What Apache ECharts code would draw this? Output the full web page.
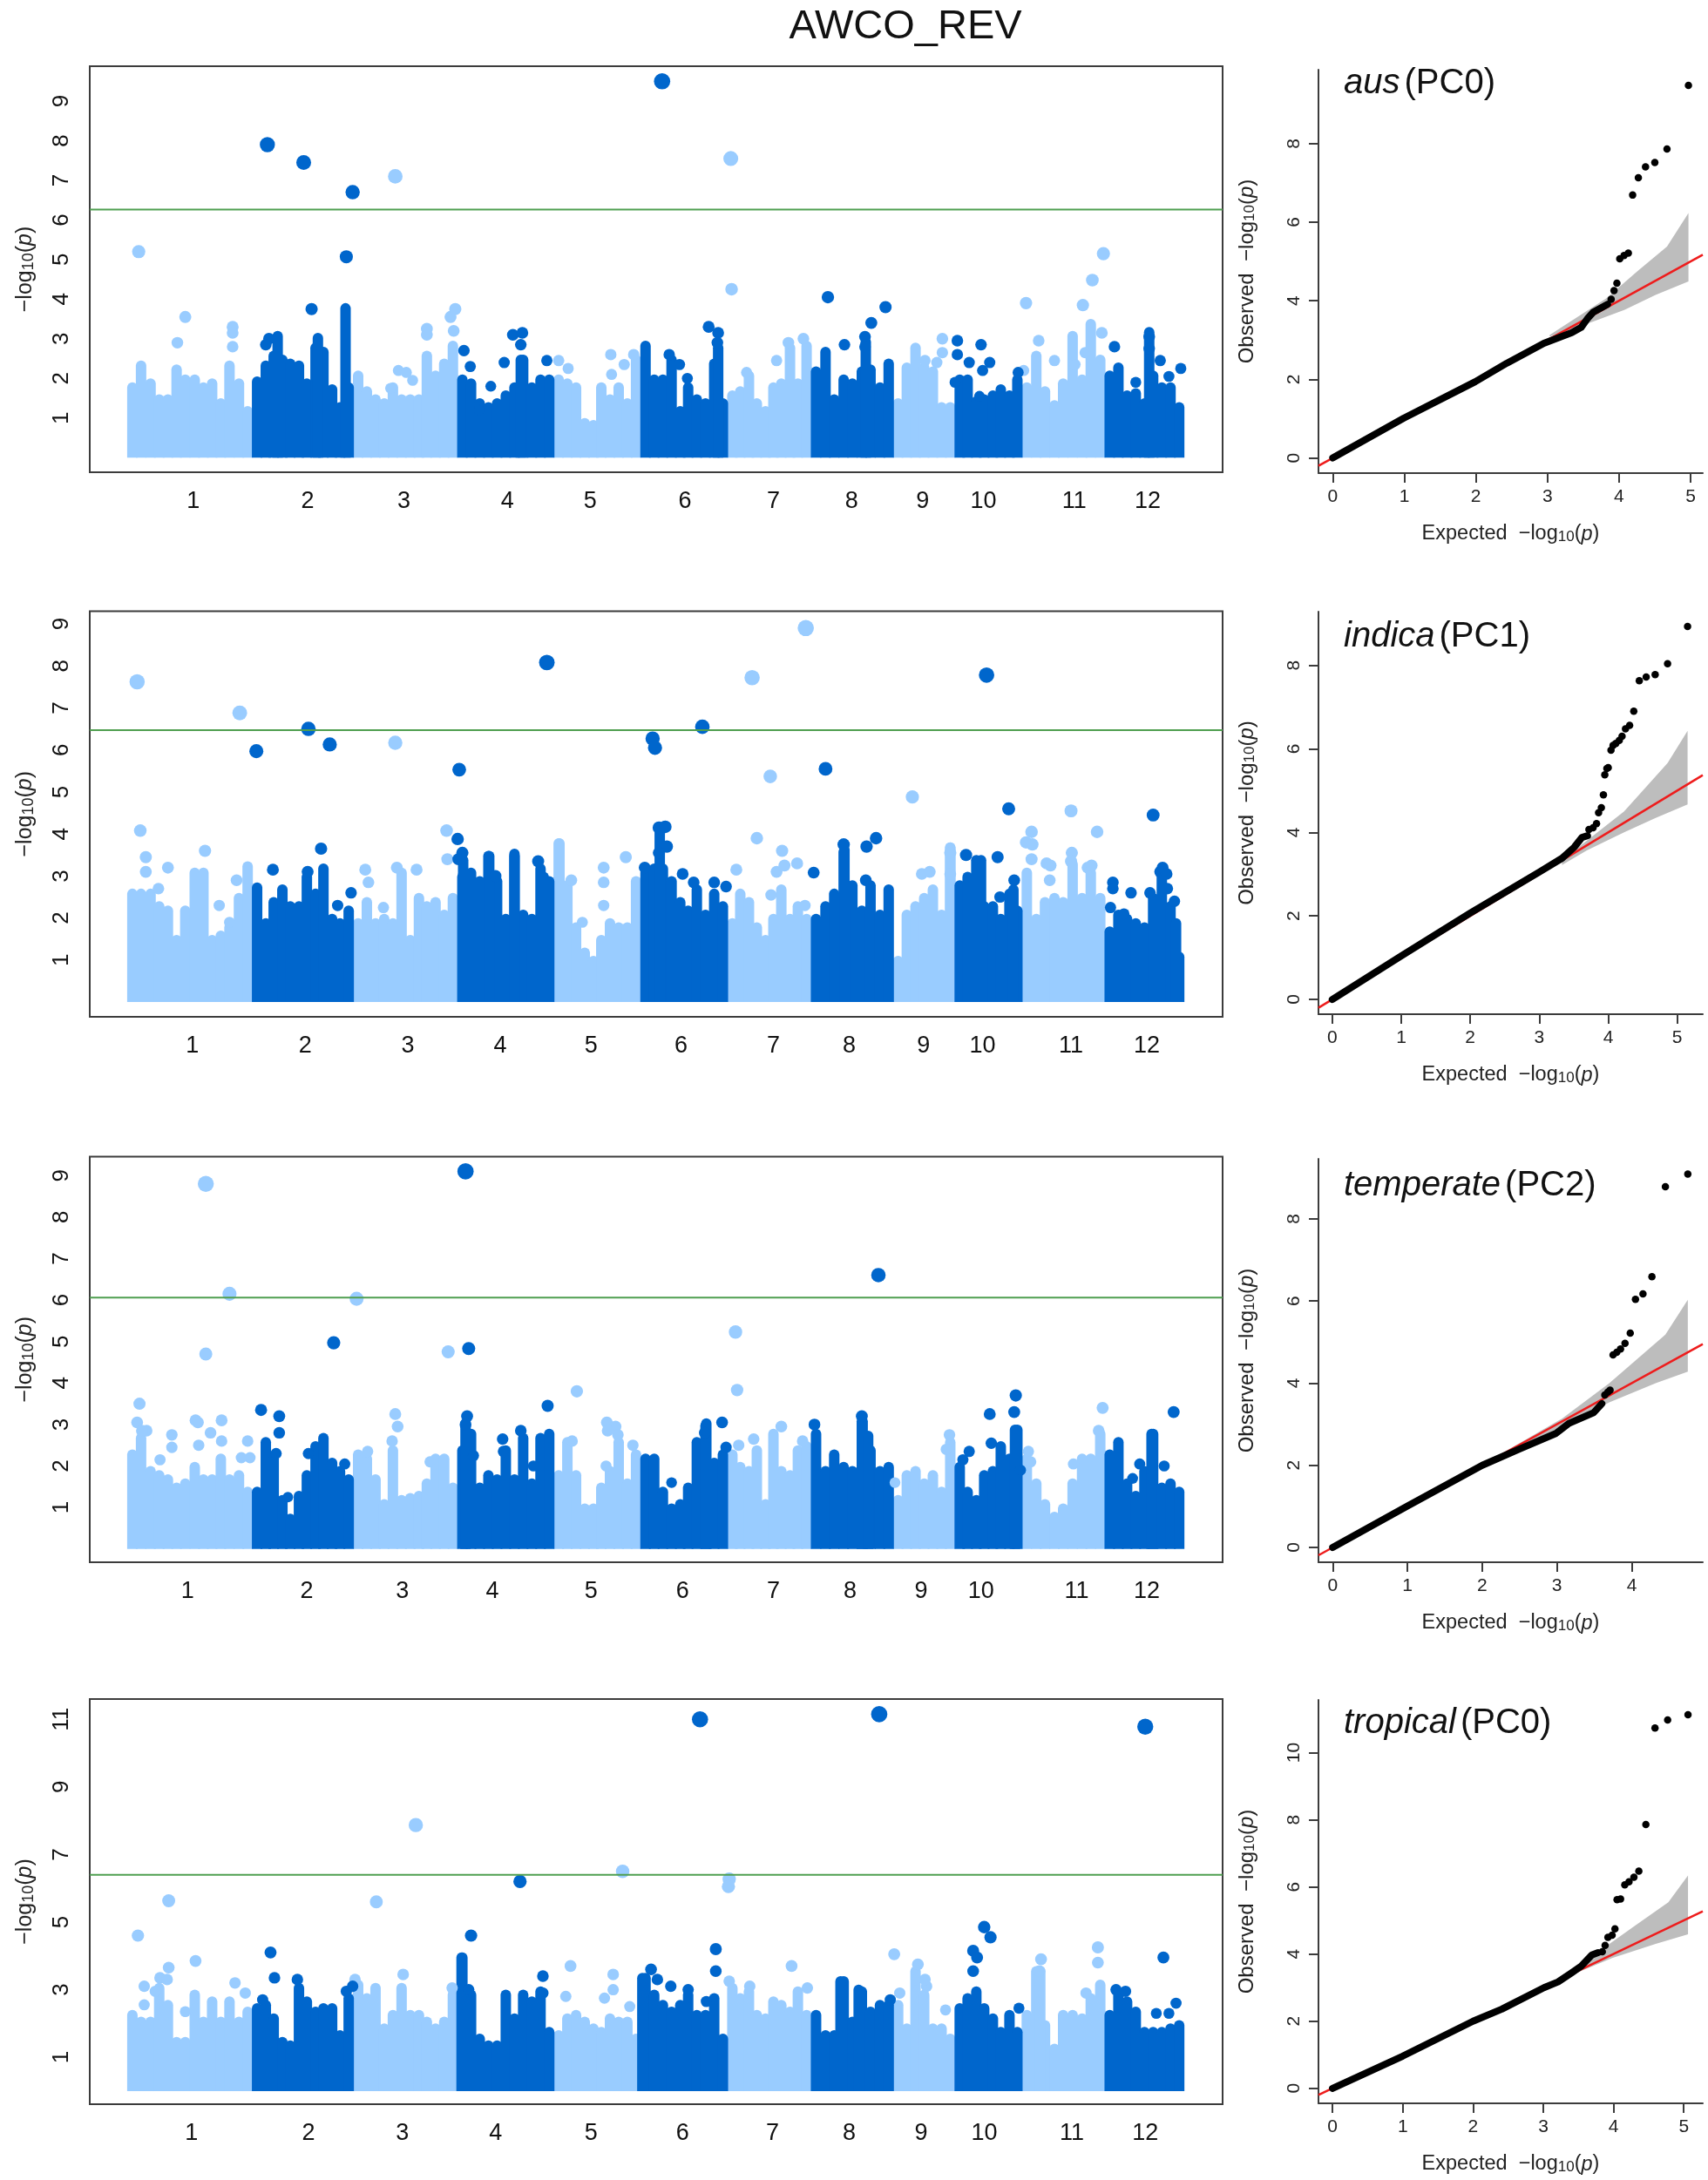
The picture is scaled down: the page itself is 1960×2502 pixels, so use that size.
<!DOCTYPE html>
<html><head><meta charset="utf-8">
<style>html,body{margin:0;padding:0;background:#fff}#c{width:1960px;height:2502px}</style>
<script src="https://cdn.jsdelivr.net/npm/echarts@6/dist/echarts.min.js"></script>
</head><body><div id="c"></div>
<script>
const chartTitle = 'AWCO_REV';
const chromosomes = ['1','2','3','4','5','6','7','8','9','10','11','12'];
const chrStarts = [162,320,448,580,702,812,922,1028,1132,1210,1295,1400];

// Column positions (genome position in plot units), one list per chromosome, flattened
const columnPos = [
 168,179,191,202,213,224,235,247,258,269,280,291,303,314,
 326,337,347,358,368,379,389,400,410,421,431,442,
 454,465,476,487,498,509,520,531,541,552,563,574,
 586,597,608,619,630,641,652,663,674,685,696,
 708,719,730,741,752,762,773,784,795,806,
 818,829,840,851,862,872,883,894,905,916,
 928,938,949,959,970,980,990,1001,1011,1022,
 1034,1046,1057,1069,1080,1092,1103,1115,1126,
 1138,1149,1160,1171,1182,1193,1204,
 1216,1226,1237,1247,1258,1268,1279,1289,
 1301,1313,1324,1336,1347,1359,1371,1382,1394,
 1406,1417,1428,1439,1450,1461,1472,1483,1494];

// Upper edge of the dense SNP mass, -log10(p)
const ausTops = [
 1.9,2.45,2.0,1.6,1.6,2.35,2.1,2.1,1.9,2.0,1.5,2.45,2.0,1.3,
 2.05,2.45,2.7,2.6,2.5,2.45,2.0,2.9,2.8,1.85,1.4,1.9,
 2.2,1.8,1.6,1.5,1.9,1.6,1.6,1.6,2.7,2.2,2.5,2.95,
 2.1,2.0,1.5,1.4,1.5,1.7,1.9,2.6,1.9,2.1,2.1,
 2.1,2.0,1.9,1.0,0.95,1.9,1.6,1.9,1.5,2.6,
 2.95,2.1,2.1,2.6,1.3,1.9,1.6,1.5,2.5,1.5,
 1.7,1.8,2.2,1.5,1.3,1.9,2.0,2.9,2.0,2.95,
 2.3,2.8,1.6,2.1,2.0,2.3,2.35,1.9,2.5,
 1.5,2.4,2.9,2.4,2.3,1.4,1.4,
 2.1,2.1,1.55,1.6,1.7,1.85,1.7,2.1,
 1.9,2.7,1.8,1.45,2.0,3.2,2.1,3.5,2.6,
 2.2,2.4,1.7,1.75,1.5,2.2,1.9,1.9,1.4];
const indicaTops = [
 2.7,2.7,2.7,2.4,2.3,1.6,2.3,3.2,3.2,1.6,1.7,1.9,2.6,3.35,
 2.85,2.0,2.5,2.8,2.4,2.4,3.1,2.7,3.3,2.1,2.0,2.3,
 2.0,2.5,2.0,2.1,2.0,3.2,1.6,2.6,2.4,2.5,2.2,2.6,
 3.1,3.2,3.0,3.6,3.0,2.1,3.6,2.2,2.1,3.3,3.0,
 3.9,2.9,1.9,1.3,1.1,1.6,2.0,1.9,1.9,3.0,
 3.2,3.3,3.3,3.0,2.5,2.3,2.8,2.2,2.7,2.4,
 2.0,2.7,2.5,1.9,1.6,2.1,2.8,2.1,2.4,2.1,
 2.1,2.4,2.7,3.7,2.9,2.3,2.9,2.2,2.8,
 1.1,2.2,2.4,2.6,2.8,2.2,3.8,
 2.9,3.1,3.5,2.4,2.4,2.1,2.7,2.3,
 3.2,2.1,2.5,2.6,2.5,3.4,2.6,3.2,2.6,
 1.8,2.2,2.1,2.0,1.9,2.6,3.2,2.4,1.2];
const temperateTops = [
 2.4,2.8,2.0,1.9,1.8,1.6,1.7,2.1,1.8,1.8,2.3,1.8,1.9,1.5,
 1.5,2.7,2.3,1.3,0.85,1.4,1.9,2.6,2.8,2.2,2.0,1.8,
 2.4,2.3,1.8,1.2,2.5,1.3,1.35,1.4,1.7,2.3,2.3,1.6,
 2.5,2.9,1.6,1.9,1.8,2.5,1.8,2.8,1.7,2.8,2.9,
 1.9,2.7,1.9,1.1,1.1,1.6,2.0,2.7,1.7,2.4,
 2.3,2.3,1.5,1.1,1.2,1.6,2.7,3.1,2.2,2.4,
 2.4,2.1,2.0,2.5,1.2,2.9,2.0,1.9,2.5,2.6,
 2.9,2.0,2.4,2.1,2.0,3.2,2.5,2.0,2.1,
 1.3,1.9,2.0,1.7,1.9,1.5,2.7,
 2.1,1.5,1.3,1.9,2.0,2.6,2.3,3.0,
 2.3,1.7,1.2,0.9,1.1,1.7,2.3,2.3,2.9,
 2.4,2.7,1.7,1.4,2.0,2.9,1.6,1.7,1.5];
const tropicalTops = [
 2.4,2.2,2.2,3.2,2.7,1.6,1.6,3.0,2.2,2.8,2.2,2.8,2.2,2.5,
 2.6,2.7,2.3,1.6,1.5,3.2,2.8,2.5,2.6,2.6,1.8,2.9,
 3.3,2.9,3.2,2.0,2.4,3.2,2.4,2.4,2.2,2.0,2.2,3.0,
 4.1,3.0,1.7,1.5,1.5,3.0,2.3,3.0,2.8,3.1,1.9,
 1.8,2.3,2.4,2.2,2.0,1.9,2.3,2.2,2.2,1.7,
 3.5,3.0,2.7,2.5,2.7,3.0,2.4,2.4,2.9,1.7,
 3.2,2.9,3.1,2.4,2.3,2.8,2.7,2.5,3.1,2.4,
 2.4,1.8,1.8,3.4,2.2,3.1,2.5,2.7,2.7,
 2.7,2.0,3.7,3.0,2.0,2.0,1.7,
 2.6,2.9,3.1,2.6,2.3,1.9,2.4,1.9,
 2.4,3.7,2.1,1.4,2.4,2.4,2.3,2.9,3.3,
 2.4,3.0,2.8,2.5,1.9,1.9,1.9,2.0,2.1];

// Narrow vertical runs of SNPs [position, top]
const ausStreaks = [[352,3.2],[403,3.15],[438,3.9],[660,2.6],[910,2.9],[1097,3.05],[1456,3.3]];
const indicaStreaks = [[587,3.5],[620,3.6],[652,3.65],[689,3.1],[709,3.9],[836,4.2],[1070,3.75],[1204,3.8],[1243,3.5],[1284,2.8],[1490,2.0]];
const temperateStreaks = [[590,3.15],[895,3.15],[1093,3.2],[1100,2.85],[1286,3.0],[1459,2.9]];
const tropicalStreaks = [[585,4.1],[814,3.5],[1065,3.4],[1088,3.15],[1318,3.7]];

// Separate SNPs above the mass [position, -log10(p)]
const ausDots = [[176,5.2],[235,3.55],[225,2.9],[295,3.3],[295,3.15],[295,2.8],
 [395,3.75],[439,5.07],[339,7.9],[385,7.45],[447,6.7],[341,3.0],[337,2.85],
 [501,7.1],[505,2.2],[515,2.15],[541,3.1],[541,3.25],[571,3.55],[577,3.75],[575,3.2],[495,1.75],[523,1.95],
 [588,2.7],[596,2.3],[622,1.8],[639,2.4],[650,3.1],[662,3.15],[660,2.85],[693,2.45],[607,1.2],
 [708,2.45],[720,2.25],[774,2.6],[775,2.1],[791,2.35],[803,2.6],
 [839,9.5],[898,3.3],[910,3.15],[909,2.9],[861,2.35],[871,2.0],[848,2.6],
 [926,7.55],[927,4.25],[984,2.45],[999,2.9],[1018,3.0],[946,2.15],
 [1049,4.05],[1122,3.8],[1104,3.4],[1070,2.85],[1096,3.05],[1096,2.8],
 [1194,3.0],[1194,2.65],[1172,2.45],[1187,2.4],
 [1213,2.95],[1213,2.6],[1243,2.85],[1228,2.4],[1254,2.4],[1245,2.2],[1290,2.15],[1241,1.55],[1210,1.9],
 [1300,3.9],[1316,2.95],[1336,2.45],[1372,3.85],[1384,4.48],[1398,5.15],[1396,3.15],[1297,2.2],[1362,2.35],[1375,2.65],
 [1412,2.8],[1456,3.05],[1456,2.75],[1470,2.45],[1496,2.25],[1439,1.9],[1481,2.05]];
const indicaDots = [[174,7.62],[304,6.88],[178,4.08],[185,3.45],[185,3.1],[213,3.2],[260,3.6],[201,2.7],[278,2.3],[300,2.9],[291,1.9],
 [391,6.5],[418,6.13],[325,5.97],[346,3.15],[407,3.65],[390,3.1],[445,2.6],[428,2.3],
 [501,6.17],[463,3.15],[467,2.85],[528,3.15],[486,2.25],[566,4.08],[567,3.4],[503,3.2],
 [582,5.53],[580,3.88],[586,3.55],[581,3.4],[693,8.08],[682,3.35],[628,3.0],
 [724,2.9],[738,1.9],[793,3.45],[765,3.2],[765,2.85],[765,2.3],
 [890,6.55],[827,6.27],[830,6.05],[835,4.15],[843,4.17],[845,3.7],[835,3.55],[865,3.05],[879,2.85],[905,2.85],[920,2.75],[817,3.2],
 [1021,8.9],[953,7.72],[976,5.37],[959,3.9],[991,3.6],[933,3.15],[984,3.1],[994,3.25],[1010,3.3],[977,2.55],[1020,2.3],
 [1046,5.55],[1031,3.08],[1110,3.9],[1098,3.7],[1069,3.75],[1097,2.9],
 [1156,4.88],[1168,3.05],[1178,3.1],[1204,3.05],[1204,3.55],
 [1250,7.78],[1278,4.6],[1224,3.5],[1264,3.45],[1285,2.9],[1267,2.5],
 [1357,4.55],[1390,4.05],[1307,4.05],[1300,3.8],[1308,3.75],[1307,3.4],[1326,3.3],[1331,3.25],[1378,3.2],[1383,3.25],[1358,3.55],[1357,3.35],[1330,2.9],
 [1461,4.45],[1470,3.1],[1473,3.2],[1478,3.05],[1410,2.85],[1410,2.7],[1433,2.6],[1457,2.6],[1479,2.7],[1488,2.4],[1407,2.25],[1424,2.1]];
const temperateDots = [[261,8.8],[291,6.15],[261,4.7],[177,3.5],[174,3.05],[186,2.85],[180,2.85],[218,2.75],[218,2.45],[252,2.5],[248,3.1],[251,3.05],[281,3.1],[267,2.8],[281,2.6],[314,2.6],[203,2.15],[317,2.2],[306,2.2],
 [331,3.35],[354,3.2],[354,2.8],[423,4.97],[391,2.3],[437,2.05],[365,1.25],[350,2.3],
 [452,6.03],[501,3.25],[504,2.95],[568,4.75],[545,2.1],[497,2.6],[466,2.35],
 [590,9.1],[594,4.83],[694,3.45],[592,3.2],[590,3.0],[660,2.85],[637,2.65],[638,2.35],[600,2.25],[676,2.0],
 [731,3.8],[769,3.05],[780,2.95],[770,2.85],[783,2.75],[768,2.0],[725,2.6],[802,2.5],
 [915,3.05],[851,1.6],[893,2.8],[920,2.45],
 [932,5.23],[934,3.83],[990,2.95],[955,2.65],[936,2.5],[1017,2.6],
 [1113,6.6],[1032,3.0],[1092,3.2],
 [1203,2.75],[1199,2.4],[1134,1.6],
 [1287,3.7],[1285,3.3],[1254,3.25],[1256,2.55],[1228,2.35],[1220,2.15],[1293,1.9],
 [1397,3.4],[1392,2.85],[1303,2.35],[1306,2.1],[1360,2.05],
 [1487,3.3],[1444,2.05],[1475,2.0],[1435,1.7]];
const tropicalDots = [[175,4.6],[214,5.63],[248,3.85],[214,3.65],[203,3.35],[212,3.3],[183,3.1],[197,2.95],[183,2.55],[235,2.35],[298,3.2],[311,2.9],
 [343,4.1],[348,3.35],[377,3.3],[447,3.1],[439,2.95],[333,2.7],
 [477,5.6],[527,7.87],[511,3.45],[573,3.05],[450,3.3],
 [659,6.2],[597,4.6],[688,3.4],[688,2.9],[594,3.0],
 [789,6.5],[723,3.7],[777,3.45],[777,3.0],[717,2.8],[766,2.75],[798,2.5],
 [887,11.0],[907,4.2],[907,3.55],[825,3.6],[833,3.3],[850,3.1],[872,3.0],[895,2.65],
 [924,6.27],[923,6.05],[1003,3.7],[950,3.1],[1023,3.05],[924,3.25],
 [1114,11.15],[1133,4.05],[1128,2.7],
 [1140,2.9],[1163,3.75],[1174,3.1],[1172,3.3],[1198,2.4],
 [1247,4.85],[1255,4.55],[1233,4.15],[1238,3.95],[1233,3.55],[1291,2.45],
 [1391,4.25],[1391,3.8],[1319,3.9],[1317,3.55],[1376,2.9],
 [1451,10.78],[1474,3.95],[1490,2.6],[1465,2.3],[1481,2.3],[1414,3.0],[1426,2.95]];

// Significance thresholds
const ausThreshold = 6.26, indicaThreshold = 6.47, temperateThreshold = 6.06, tropicalThreshold = 6.40;

// Chromosome label positions
const ausLabelPos = [245,390,512,643,748,868,980,1079,1169,1246,1361,1454];
const indicaLabelPos = [244,387,517,634,749,863,980,1076,1170,1245,1357,1453];
const temperateLabelPos = [238,389,510,624,749,865,980,1077,1167,1243,1364,1453];
const tropicalLabelPos = [243,391,510,628,749,865,979,1076,1167,1247,1358,1451];

// QQ plots: [expected, observed]
const ausQQBody = [[0,0],[0.99,1.01],[1.99,1.94],[2.43,2.41],[2.95,2.92],[3.34,3.19],[3.47,3.32],[3.56,3.55],[3.64,3.71],[3.84,3.91]];
const ausQQTail = [[4.97,9.48],[4.67,7.86],[4.5,7.52],[4.37,7.41],[4.27,7.13],[4.19,6.69],[4.13,5.21],[4.07,5.15],[4.01,5.07],[3.97,4.45],[3.93,4.26],[3.89,4.04]];
const ausQQBand = [[3.03,3.13],[3.82,4.06],[4.25,4.74],[4.67,5.38],[4.97,6.23],[4.97,4.49],[4.51,4.15],[4.08,3.77],[3.64,3.47],[3.03,3.09]];
const indicaQQBody = [[0,0],[1,1.04],[2,2.07],[3,3.05],[3.33,3.38],[3.51,3.65],[3.62,3.88],[3.7,3.92]];
const indicaQQTail = [[5.15,8.93],[4.86,8.04],[4.68,7.78],[4.55,7.72],[4.45,7.63],[4.37,6.9],[4.31,6.56],[4.25,6.48],[4.2,6.3],[4.16,6.2],[4.11,6.13],[4.07,6.08],[4.04,5.97],[4.0,5.55],[3.98,5.53],[3.95,5.38],[3.93,4.9],[3.9,4.59],[3.86,4.47],[3.83,4.21],[3.78,4.11],[3.72,4.07]];
const indicaQQBand = [[3.33,3.34],[3.78,3.92],[4.23,4.5],[4.86,5.66],[5.15,6.43],[5.15,4.67],[4.68,4.34],[4.23,4.0],[3.69,3.57],[3.33,3.22]];
const temperateQQBody = [[0,0],[1,1.01],[2,2.0],[2.49,2.39],[2.99,2.78],[3.16,3.02],[3.49,3.28],[3.6,3.5]];
const temperateQQTail = [[4.75,9.09],[4.45,8.78],[4.27,6.59],[4.15,6.17],[4.05,6.04],[3.98,5.22],[3.91,4.97],[3.85,4.83],[3.8,4.75],[3.75,4.69],[3.71,3.83],[3.68,3.78],[3.64,3.71]];
const temperateQQBand = [[2.32,2.35],[3.07,3.14],[3.7,4.0],[4.45,5.18],[4.75,6.03],[4.75,4.28],[4.32,4.0],[3.7,3.53],[3.07,2.94],[2.32,2.31]];
const tropicalQQBody = [[0,0],[1,0.96],[2,2.0],[2.41,2.36],[3.01,3.0],[3.21,3.17],[3.41,3.45],[3.54,3.64],[3.69,3.97],[3.78,4.04]];
const tropicalQQTail = [[5.06,11.13],[4.77,10.97],[4.59,10.73],[4.46,7.86],[4.36,6.47],[4.29,6.29],[4.22,6.15],[4.16,6.06],[4.1,5.64],[4.05,5.62],[4.02,4.75],[3.98,4.56],[3.92,4.5],[3.88,4.26],[3.84,4.07]];
const tropicalQQBand = [[3.18,3.17],[3.72,3.97],[4.29,4.82],[4.78,5.54],[5.06,6.34],[5.06,4.59],[4.6,4.3],[3.98,3.88],[3.49,3.45],[3.18,3.12]];

const FONT = 'Liberation Sans';
const LIGHT = '#99CCFF', DARK = '#0066CC', GREEN = '#4f9f50', AXIS = '#3c3c3c';

const panels = [
 {name:'aus', pc:'(PC0)', tops:ausTops, streaks:ausStreaks, dots:ausDots, thr:ausThreshold, labels:ausLabelPos,
  top:76, bottom:542, yMin:-0.37, yMax:9.88, yTicks:[1,2,3,4,5,6,7,8,9],
  q:{body:ausQQBody, tail:ausQQTail, band:ausQQBand, top:80, bottom:543, xMin:-0.2, xMax:5.17, yMin:-0.386, yMax:9.88, xTicks:[0,1,2,3,4,5], yTicks:[0,2,4,6,8], titleY:95}},
 {name:'indica', pc:'(PC1)', tops:indicaTops, streaks:indicaStreaks, dots:indicaDots, thr:indicaThreshold, labels:indicaLabelPos,
  top:701.5, bottom:1167, yMin:-0.35, yMax:9.3, yTicks:[1,2,3,4,5,6,7,8,9],
  q:{body:indicaQQBody, tail:indicaQQTail, band:indicaQQBand, top:702, bottom:1164, xMin:-0.2, xMax:5.37, yMin:-0.354, yMax:9.285, xTicks:[0,1,2,3,4,5], yTicks:[0,2,4,6,8], titleY:730}},
 {name:'temperate', pc:'(PC2)', tops:temperateTops, streaks:temperateStreaks, dots:temperateDots, thr:temperateThreshold, labels:temperateLabelPos,
  top:1327.5, bottom:1793, yMin:-0.32, yMax:9.455, yTicks:[1,2,3,4,5,6,7,8,9],
  q:{body:temperateQQBody, tail:temperateQQTail, band:temperateQQBand, top:1330, bottom:1793, xMin:-0.19, xMax:4.95, yMin:-0.36, yMax:9.46, xTicks:[0,1,2,3,4], yTicks:[0,2,4,6,8], titleY:1360}},
 {name:'tropical', pc:'(PC0)', tops:tropicalTops, streaks:tropicalStreaks, dots:tropicalDots, thr:tropicalThreshold, labels:tropicalLabelPos,
  top:1950, bottom:2415, yMin:-0.39, yMax:11.6, yTicks:[1,3,5,7,9,11],
  q:{body:tropicalQQBody, tail:tropicalQQTail, band:tropicalQQBand, top:1951, bottom:2414, xMin:-0.2, xMax:5.27, yMin:-0.447, yMax:11.57, xTicks:[0,1,2,3,4,5], yTicks:[0,2,4,6,8,10], titleY:1977}}
];

function colorOf(x){ let k=0; for(let i=0;i<chrStarts.length;i++){ if(x>=chrStarts[i]) k=i; } return k%2===0?LIGHT:DARK; }
const logRich = size => ({
  a:{fontFamily:FONT,fontSize:size,color:'#222'},
  s:{fontFamily:FONT,fontSize:Math.round(size*0.72),color:'#222',verticalAlign:'bottom',padding:[Math.round(size*0.3),0,0,0]},
  i:{fontFamily:FONT,fontSize:size,fontStyle:'italic',color:'#222'}
});
const logName = prefix => `{a|${prefix}−log}{s|10}{a|(}{i|p}{a|)}`;

const grid=[], xAxis=[], yAxis=[], series=[], title=[];
title.push({text:chartTitle,left:1034,top:3,textAlign:'center',textStyle:{fontFamily:FONT,fontSize:47,fontWeight:'normal',color:'#111'}});

panels.forEach(p=>{
  // Manhattan plot
  const gi = grid.length;
  grid.push({left:103,width:1300,top:p.top,height:p.bottom-p.top,show:true,borderColor:AXIS,borderWidth:2,backgroundColor:'transparent',outerBoundsMode:'none',containLabel:false});
  xAxis.push({type:'value',gridIndex:gi,min:114,max:1549,splitLine:{show:false},axisLine:{show:false},axisTick:{show:false},
    axisLabel:{customValues:p.labels,formatter:v=>chromosomes[p.labels.indexOf(v)],fontFamily:FONT,fontSize:27,color:'#111',margin:20,hideOverlap:false}});
  yAxis.push({type:'value',gridIndex:gi,min:p.yMin,max:p.yMax,splitLine:{show:false},axisLine:{show:false,onZero:false},axisTick:{show:false},
    axisLabel:{customValues:p.yTicks,rotate:90,fontFamily:FONT,fontSize:26,color:'#111',margin:19,hideOverlap:false},
    name:logName(''),nameLocation:'middle',nameGap:61,nameRotate:90,nameTextStyle:{rich:logRich(25)}});
  const cols = columnPos.map((x,i)=>[x,p.tops[i]]).concat(p.streaks);
  [LIGHT,DARK].forEach(c=>{
    series.push({type:'bar',xAxisIndex:gi,yAxisIndex:gi,name:p.name+' mass',barWidth:12,barGap:'-100%',silent:true,
      itemStyle:{color:c,borderRadius:[6,6,0,0]},data:cols.filter(d=>colorOf(d[0])===c)});
  });
  [LIGHT,DARK].forEach(c=>{
    series.push({type:'scatter',xAxisIndex:gi,yAxisIndex:gi,name:p.name+' SNPs',silent:true,itemStyle:{color:c,opacity:1},
      symbolSize:v=>11+8*v[1]/p.yMax,data:p.dots.filter(d=>colorOf(d[0])===c)});
  });
  series.push({type:'line',xAxisIndex:gi,yAxisIndex:gi,name:p.name+' threshold',silent:true,symbol:'none',z:5,
    lineStyle:{color:GREEN,width:2},data:[[114,p.thr],[1549,p.thr]]});

  // QQ plot
  const q = p.q, qi = grid.length;
  grid.push({left:1513,width:441,top:q.top,height:q.bottom-q.top,show:false,outerBoundsMode:'none',containLabel:false});
  const axLine = {show:true,onZero:false,lineStyle:{color:AXIS,width:2}};
  const tick = vals=>({show:true,length:11,customValues:vals,lineStyle:{color:AXIS,width:2}});
  xAxis.push({type:'value',gridIndex:qi,min:q.xMin,max:q.xMax,splitLine:{show:false},axisLine:axLine,axisTick:tick(q.xTicks),
    axisLabel:{customValues:q.xTicks,fontFamily:FONT,fontSize:21,color:'#222',margin:17,hideOverlap:false},
    name:logName('Expected  '),nameLocation:'middle',nameGap:58,nameTextStyle:{rich:logRich(23.5)}});
  yAxis.push({type:'value',gridIndex:qi,min:q.yMin,max:q.yMax,splitLine:{show:false},axisLine:axLine,axisTick:tick(q.yTicks),
    axisLabel:{customValues:q.yTicks,rotate:90,fontFamily:FONT,fontSize:21,color:'#222',margin:17,hideOverlap:false},
    name:logName('Observed  '),nameLocation:'middle',nameGap:70,nameRotate:90,nameTextStyle:{rich:logRich(24)}});
  series.push({type:'custom',xAxisIndex:qi,yAxisIndex:qi,name:p.name+' QQ band',silent:true,z:1,
    renderItem:(params,api)=>{
      if(params.dataIndex!==0) return null;
      return {type:'polygon',shape:{points:q.band.map(d=>api.coord(d))},style:{fill:'#bdbdbd'}};
    },
    encode:{x:0,y:1},data:q.band});
  series.push({type:'line',xAxisIndex:qi,yAxisIndex:qi,name:p.name+' QQ expected',silent:true,symbol:'none',z:2,
    lineStyle:{color:'#ee1c1c',width:2.5},data:[[q.xMin,q.xMin],[q.xMax,q.xMax]]});
  series.push({type:'line',xAxisIndex:qi,yAxisIndex:qi,name:p.name+' QQ body',silent:true,symbol:'none',z:3,
    lineStyle:{color:'#000',width:8,cap:'round',join:'round'},data:q.body});
  series.push({type:'scatter',xAxisIndex:qi,yAxisIndex:qi,name:p.name+' QQ tail',silent:true,z:3,symbolSize:8.5,
    itemStyle:{color:'#000',opacity:1},data:q.tail});

  title.push({text:`{i|${p.name}} {n|${p.pc}}`,left:1537,top:q.titleY-24,
    textStyle:{fontWeight:'normal',rich:{i:{fontFamily:FONT,fontSize:40,fontStyle:'italic',fontWeight:'normal',color:'#111'},n:{fontFamily:FONT,fontSize:40,fontWeight:'normal',color:'#111'}}}});
});

const chart = echarts.init(document.getElementById('c'),null,{renderer:'canvas',width:1960,height:2502});
chart.setOption({animation:false,backgroundColor:'#fff',title,grid,xAxis,yAxis,series});
</script></body></html>
